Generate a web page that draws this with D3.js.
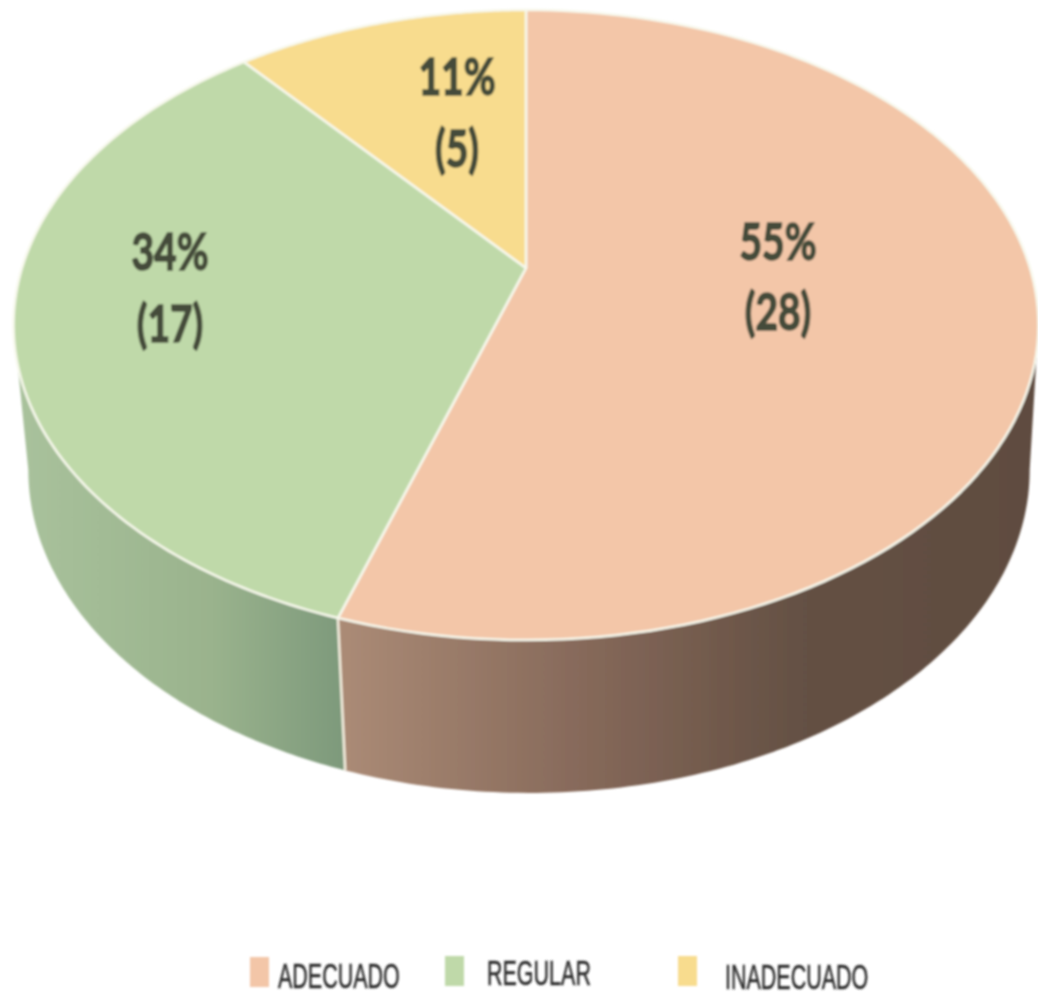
<!DOCTYPE html>
<html>
<head>
<meta charset="utf-8">
<style>
  html, body { margin: 0; padding: 0; background: #fff; }
  svg { display: block; }
</style>
<script src="https://cdn.jsdelivr.net/npm/d3@7"></script>
</head>
<body>
<div id="chart"></div>
<script>
const categories = ["ADECUADO", "REGULAR", "INADECUADO"];
const percents = [55, 34, 11];
const counts = [28, 17, 5];
const topColors = ["#f3c6a8", "#bfd9a9", "#f8dc8e"];

const width = 1038;
const height = 996;

// punto de fuga: el centro de la torta no cae en el centro de la elipse
const apexX = 526, apexY = 268;
const radius = 504, yScale = 256.2, persp = -0.181;

const svg = d3.select("#chart").append("svg")
  .attr("width", width)
  .attr("height", height);

const defs = svg.append("defs");
defs.append("filter").attr("id", "soft")
  .attr("x", "-5%").attr("y", "-5%").attr("width", "110%").attr("height", "110%")
  .append("feGaussianBlur").attr("stdDeviation", 1);

function wallGradient(id, x1, x2, stops) {
  const g = defs.append("linearGradient").attr("id", id)
    .attr("gradientUnits", "userSpaceOnUse")
    .attr("x1", x1).attr("x2", x2).attr("y1", 0).attr("y2", 0);
  stops.forEach(s => g.append("stop").attr("offset", s[0]).attr("stop-color", s[1]));
}
wallGradient("wallBrown", 340, 1037, [[0, "#ab8b76"], [0.35, "#86695a"], [0.65, "#655144"], [1, "#5f4c40"]]);
wallGradient("wallGreen", 17, 340, [[0, "#a9c29c"], [0.6, "#9ab38d"], [1, "#7e9a7c"]]);

// borde superior proyectado
function rim(angle) {
  const u = Math.sin(angle), v = -Math.cos(angle);
  const w = 1 + persp * v;
  return [apexX + radius * u / w, (apexY + yScale * v) / w];
}
// borde inferior: la misma elipse, algo más angosta y desplazada hacia abajo
function rimBottom(angle) {
  const p = rim(angle);
  return [apexX + 3 + (p[0] - apexX) * 0.977, 470 + (p[1] - 325) * 1.025];
}
function sampleAngles(a0, a1) {
  return d3.range(0, 121).map(i => a0 + (a1 - a0) * i / 120);
}

const line = d3.line();
const slices = d3.pie().sort(null)(percents);
const root = svg.append("g").attr("filter", "url(#soft)");

// paredes laterales, desde la tangente de la elipse hasta la arista
const tangent = Math.acos(persp);
const walls = [
  { a0: tangent, a1: slices[0].endAngle, fill: "url(#wallBrown)" },
  { a0: slices[1].startAngle, a1: 2 * Math.PI - tangent, fill: "url(#wallGreen)" }
];
root.selectAll("path.wall")
  .data(walls)
  .join("path")
  .attr("class", "wall")
  .attr("fill", d => d.fill)
  .attr("d", d => {
    const angles = sampleAngles(d.a0, d.a1);
    return line(angles.map(rim).concat(angles.slice().reverse().map(rimBottom))) + "Z";
  });

// arista vertical entre las dos paredes
root.append("path")
  .attr("fill", "none")
  .attr("stroke", "#f4efe0")
  .attr("stroke-width", 2.5)
  .attr("d", line([rim(slices[0].endAngle), rimBottom(slices[0].endAngle)]));

// cara superior
root.selectAll("path.slice")
  .data(slices)
  .join("path")
  .attr("class", "slice")
  .attr("fill", (d, i) => topColors[i])
  .attr("stroke", "#f7f8ec")
  .attr("stroke-width", 2.5)
  .attr("stroke-linejoin", "round")
  .attr("d", d => line([[apexX, apexY]].concat(sampleAngles(d.startAngle, d.endAngle).map(rim))) + "Z");

// etiquetas colocadas a mano, como en el original
const labelAnchors = [[778, 243, 313], [170, 253, 325], [457, 78, 150]];

const labels = root.selectAll("g.label")
  .data(percents)
  .join("g")
  .attr("class", "label")
  .attr("font-family", "Lato, 'Open Sans', sans-serif")
  .attr("font-weight", 700)
  .attr("font-size", 39)
  .attr("fill", "#454c3a")
  .attr("stroke", "#454c3a")
  .attr("stroke-width", 1.3)
  .attr("text-anchor", "middle");

function stretchedText(sel, x, y, sy, txt) {
  sel.append("text")
    .attr("transform", `translate(${x},${y}) scale(1,${sy})`)
    .text(txt);
}
labels.each(function (d, i) {
  const a = labelAnchors[i], g = d3.select(this);
  stretchedText(g, a[0], a[1] + 17, 1.3, d + "%");
  stretchedText(g, a[0], a[2] + 17, 1.3, "(" + counts[i] + ")");
});

// leyenda
const legendSwatchX = [250, 445, 678];
const legendSwatchY = [957, 956, 956];
const legendTextX = [278, 487, 725];
const legendTextY = [988, 985, 988.5];

const legend = root.selectAll("g.legend")
  .data(categories)
  .join("g")
  .attr("class", "legend");

legend.append("rect")
  .attr("x", (d, i) => legendSwatchX[i])
  .attr("y", (d, i) => legendSwatchY[i])
  .attr("width", 19)
  .attr("height", 30)
  .attr("fill", (d, i) => topColors[i]);

legend.append("text")
  .attr("transform", (d, i) => `translate(${legendTextX[i]},${legendTextY[i]}) scale(1,1.6)`)
  .attr("font-family", "'Liberation Sans', Arial, sans-serif")
  .attr("font-size", 21.5)
  .attr("fill", "#2c2c2c")
  .attr("stroke", "#2c2c2c")
  .attr("stroke-width", 0.3)
  .text(d => d);
</script>
</body>
</html>
